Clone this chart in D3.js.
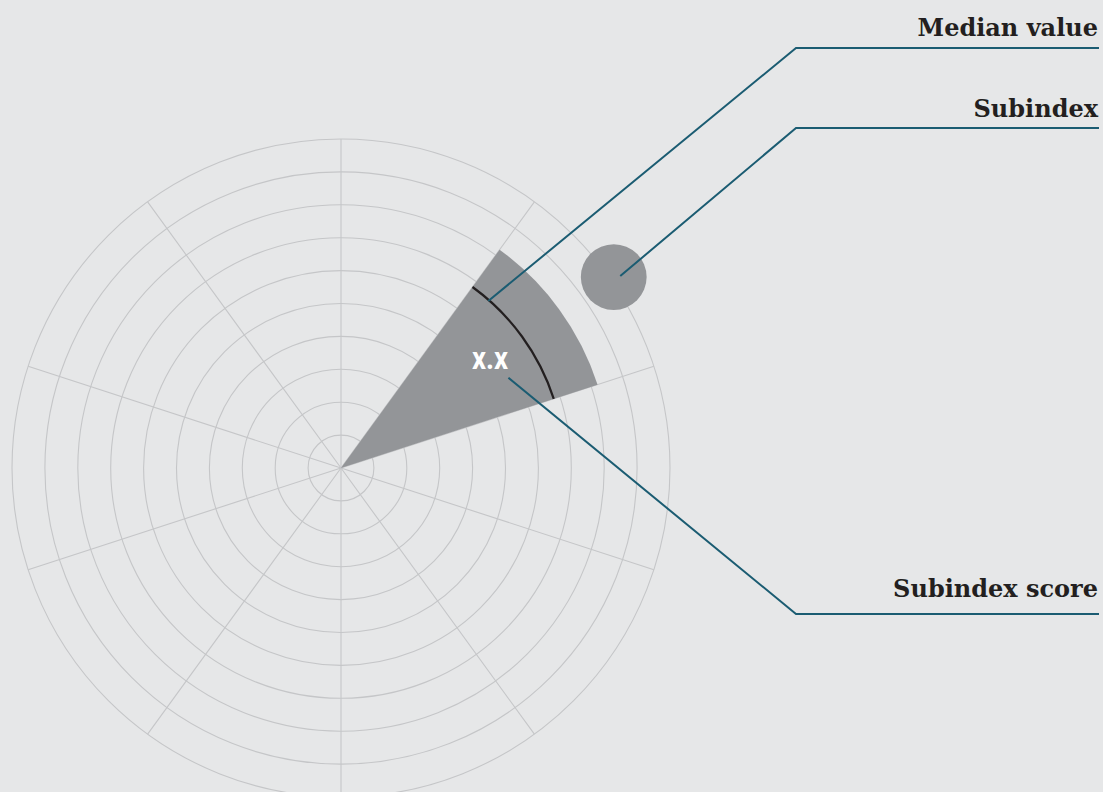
<!DOCTYPE html>
<html>
<head>
<meta charset="utf-8">
<script src="https://cdn.jsdelivr.net/npm/d3@7"></script>
<style>
html,body{margin:0;padding:0;background:#e6e7e8;}
svg{display:block;}
</style>
</head>
<body>
<svg id="chart" width="1103" height="792"></svg>
<script>
// ---- data ----
const ringValues = [1,2,3,4,5,6,7,8,9,10];
const sectorCount = 10;
const highlightedSector = 1;      // sector index (0 = top, clockwise)
const subindexScore = 8.2;
const medianValue = 6.8;
const scoreLabel = "x.x";
const subindexMarker = {angleDeg: 55, value: 10.12, size: 1.0};
const callouts = [
  {label: "Median value",   anchorAngle: 41.4, anchorValue: 6.77, elbowY: 48,  textY: 36},
  {label: "Subindex",       anchorAngle: 55.5, anchorValue: 10.3, elbowY: 128, textY: 117},
  {label: "Subindex score", anchorAngle: 61.7, anchorValue: 5.78, elbowY: 614, textY: 597}
];

// ---- layout ----
const svg = d3.select("#chart");
const cx = 341, cy = 468, R = 329;
const r = d3.scaleLinear().domain([0, 10]).range([0, R]);
const ang = d3.scaleLinear().domain([0, sectorCount]).range([0, 2*Math.PI]);
const g = svg.append("g").attr("transform", `translate(${cx},${cy})`);
const polar = (aRad, v) => [Math.sin(aRad)*r(v), -Math.cos(aRad)*r(v)];

// grid rings
g.selectAll("circle.ring").data(ringValues).join("circle")
  .attr("class","ring").attr("r", d => r(d))
  .attr("fill","none").attr("stroke","#c5c6c8").attr("stroke-width",1.1);

// spokes
g.selectAll("line.spoke").data(d3.range(sectorCount)).join("line")
  .attr("class","spoke")
  .attr("x1",0).attr("y1",0)
  .attr("x2", d => polar(ang(d), 10)[0])
  .attr("y2", d => polar(ang(d), 10)[1])
  .attr("stroke","#c5c6c8").attr("stroke-width",1.1);

// wedge
const arc = d3.arc();
g.append("path")
  .attr("d", arc({innerRadius:0, outerRadius:r(subindexScore),
                  startAngle: ang(highlightedSector), endAngle: ang(highlightedSector+1)}))
  .attr("fill","#939598");

// median arc
const medPath = d3.path();
medPath.arc(0,0,r(medianValue), ang(highlightedSector)-Math.PI/2, ang(highlightedSector+1)-Math.PI/2);
g.append("path").attr("d", medPath.toString())
  .attr("fill","none").attr("stroke","#231f20").attr("stroke-width",2.2);

// subindex marker
const mp = polar(subindexMarker.angleDeg*Math.PI/180, subindexMarker.value);
g.append("circle").attr("cx", mp[0]).attr("cy", mp[1])
  .attr("r", r(subindexMarker.size)).attr("fill","#939598");

// score label
const lp = polar(ang(highlightedSector+0.5), 5.6);
g.append("text")
  .attr("transform", `translate(${lp[0]},${lp[1]+9}) scale(0.92,1.05)`)
  .attr("text-anchor","middle")
  .attr("font-family","Roboto, 'DejaVu Sans', sans-serif")
  .attr("font-weight","700").attr("font-size",30)
  .attr("fill","#ffffff").text(scoreLabel);

// callouts
const elbowX = 796, endX = 1099;
callouts.forEach(c => {
  const p = polar(c.anchorAngle*Math.PI/180, c.anchorValue);
  const ax = cx + p[0], ay = cy + p[1];
  svg.append("polyline")
    .attr("points", `${ax},${ay} ${elbowX},${c.elbowY} ${endX},${c.elbowY}`)
    .attr("fill","none").attr("stroke","#1b5c72").attr("stroke-width",2);
  svg.append("text").attr("x", 1098).attr("y", c.textY)
    .attr("text-anchor","end")
    .attr("font-family","'DejaVu Serif', 'Liberation Serif', serif")
    .attr("font-weight","700").attr("font-size",24)
    .attr("fill","#231f20").text(c.label);
});
</script>
</body>
</html>
